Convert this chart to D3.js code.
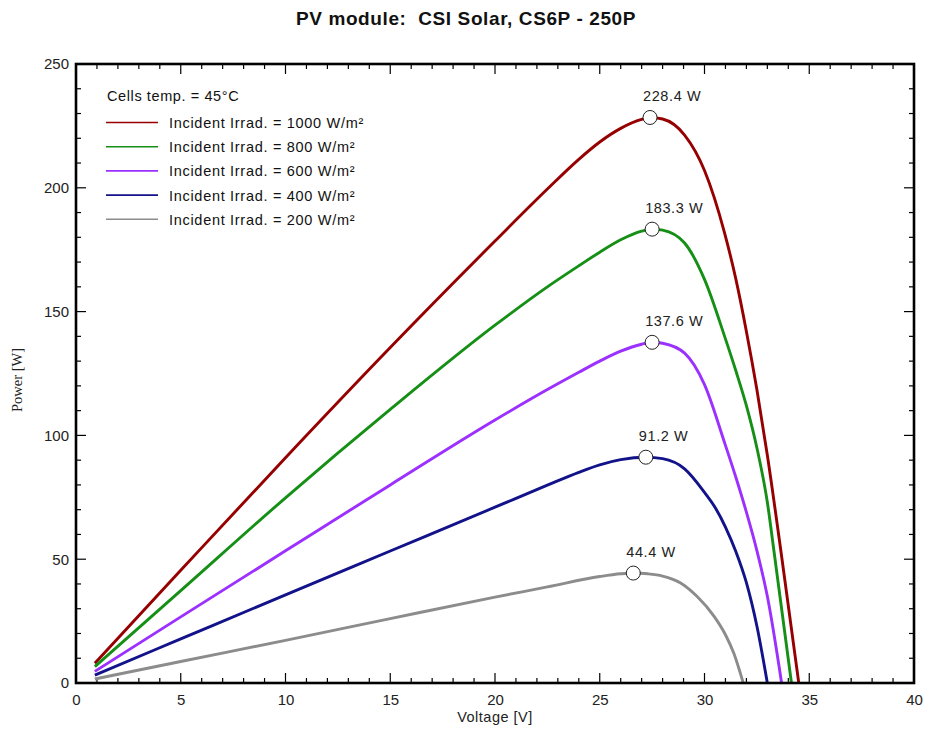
<!DOCTYPE html>
<html>
<head>
<meta charset="utf-8">
<script src="https://cdn.jsdelivr.net/npm/d3@7"></script>
<style>
  body { margin: 0; background: #fff; }
  svg { display: block; font-family: "Liberation Sans", Arial, sans-serif; }
</style>
</head>
<body>
<svg id="chart" width="927" height="731"></svg>
<script>
// ---- Data ----
const title = "PV module:  CSI Solar, CS6P - 250P";
const xTicks = [0, 5, 10, 15, 20, 25, 30, 35, 40];
const yTicks = [0, 50, 100, 150, 200, 250];
const seriesNames = ["Incident Irrad. = 1000 W/m²", "Incident Irrad. = 800 W/m²", "Incident Irrad. = 600 W/m²", "Incident Irrad. = 400 W/m²", "Incident Irrad. = 200 W/m²"];
const seriesColors = ["#960000", "#158f15", "#9b30ff", "#12128a", "#8c8c8c"];

const v1000 = [0.9, 5, 10, 15, 20, 22.5, 24, 25, 26, 27, 27.4, 28, 29.05, 30, 30.96, 31.5, 32, 32.5, 33, 33.7, 34.5];
const p1000 = [8.0, 45.5, 91, 135.5, 178.5, 199.5, 211.5, 218.5, 224, 227.6, 228.4, 227.8, 221.3, 207, 181.7, 163, 142, 118.5, 92, 50, 0];

const v800 = [0.9, 5, 10, 15, 20, 22.5, 24, 25, 26, 27, 27.5, 28, 29.05, 30, 30.96, 31.5, 32, 32.5, 33, 33.32, 34.15];
const p800 = [6.6, 37.3, 74.8, 110.5, 144.5, 160, 168.5, 174, 179, 182.5, 183.3, 182.9, 177.7, 163, 140, 126, 112, 95, 73, 53, 0];

const v600 = [0.9, 5, 10, 15, 20, 22.5, 24, 25, 26, 27, 27.5, 28, 29.05, 30, 30.96, 31.5, 32, 32.5, 33, 33.68];
const p600 = [4.7, 26.7, 53.4, 80, 106.2, 118.5, 125.5, 130, 134, 136.8, 137.6, 137.2, 133.2, 120.5, 97, 83, 69, 53.5, 35, 0];

const v400 = [0.9, 5, 10, 15, 20, 22.5, 24, 25, 26, 27.2, 28, 29.05, 30, 30.5, 31, 31.5, 32, 32.5, 33.0];
const p400 = [3.2, 17.8, 35.6, 53.3, 71, 79.9, 85.1, 88.1, 90.2, 91.2, 90.6, 86.5, 77, 71, 63, 53, 40.5, 23, 0];

const v200 = [0.9, 5, 10, 15, 20, 22.5, 25, 26, 26.6, 27.3, 28, 28.86, 29.65, 30.45, 31, 31.4, 31.85];
const p200 = [1.6, 8.7, 17.2, 26, 34.7, 38.8, 43.0, 44.1, 44.4, 44.1, 43.2, 40.4, 34.9, 27, 19.5, 12, 0];

const maxV = [27.4, 27.5, 27.5, 27.2, 26.6];
const maxP = [228.4, 183.3, 137.6, 91.2, 44.4];
const maxLabels = ["228.4 W", "183.3 W", "137.6 W", "91.2 W", "44.4 W"];

const legendHeader = "Cells temp. = 45°C";
const xLabel = "Voltage [V]";
const yLabel = "Power [W]";

const seriesV = [v1000, v800, v600, v400, v200];
const seriesP = [p1000, p800, p600, p400, p200];

// ---- Layout ----
const svg = d3.select("#chart");
const L = 76, R = 914, T = 64, B = 683;
const x = d3.scaleLinear().domain([0, 40]).range([L, R]);
const y = d3.scaleLinear().domain([0, 250]).range([B, T]);

// Title
svg.append("text").attr("x", 466).attr("y", 25).attr("text-anchor", "middle")
  .style("white-space", "pre").attr("letter-spacing", 0.6)
  .attr("font-weight", "bold").attr("font-size", 19).attr("fill", "#111").text(title);

// Ticks (inside, all four sides)
const minorX = d3.range(0, 41, 1), minorY = d3.range(0, 251, 10);
const tg = svg.append("g").attr("stroke", "#000").attr("stroke-width", 1.2);
minorX.forEach(v => {
  const len = (v % 5 === 0) ? 10 : 5;
  tg.append("line").attr("x1", x(v)).attr("x2", x(v)).attr("y1", B).attr("y2", B - len);
  tg.append("line").attr("x1", x(v)).attr("x2", x(v)).attr("y1", T).attr("y2", T + len);
});
minorY.forEach(v => {
  const len = (v % 50 === 0) ? 10 : 5;
  tg.append("line").attr("y1", y(v)).attr("y2", y(v)).attr("x1", L).attr("x2", L + len);
  tg.append("line").attr("y1", y(v)).attr("y2", y(v)).attr("x1", R).attr("x2", R - len);
});

// Axes via d3 (labels only; tick lines drawn above)
const xAxis = d3.axisBottom(x).tickValues(xTicks).tickSize(0).tickPadding(11);
const gx = svg.append("g").attr("transform", `translate(0,${B})`).call(xAxis);
gx.select(".domain").remove();
gx.selectAll("text").attr("font-size", 15).attr("font-family", "Liberation Sans, Arial, sans-serif").attr("fill", "#222");

const yAxis = d3.axisLeft(y).tickValues(yTicks).tickSize(0).tickPadding(7);
const gy = svg.append("g").attr("transform", `translate(${L},0)`).call(yAxis);
gy.select(".domain").remove();
gy.selectAll("text").attr("font-size", 15).attr("font-family", "Liberation Sans, Arial, sans-serif").attr("fill", "#222");

// Axis titles
svg.append("text").attr("x", (L + R) / 2).attr("y", 722).attr("text-anchor", "middle")
  .attr("letter-spacing", 0.5).attr("font-size", 14.5).attr("fill", "#222").text(xLabel);
svg.append("text").attr("transform", "translate(22,380) rotate(-90)").attr("text-anchor", "middle")
  .attr("font-family", "Liberation Serif, Times New Roman, serif").attr("font-size", 14.5).attr("fill", "#222").text(yLabel);

// Curves
const line = d3.line().x(d => x(d[0])).y(d => y(d[1])).curve(d3.curveMonotoneX);
seriesV.forEach((vs, i) => {
  const pts = vs.map((v, j) => [v, seriesP[i][j]]);
  svg.append("path").datum(pts).attr("d", line).attr("fill", "none")
    .attr("stroke", seriesColors[i]).attr("stroke-width", 2.9).attr("stroke-linejoin", "round");
});

// Frame
svg.append("rect").attr("x", L).attr("y", T).attr("width", R - L).attr("height", B - T)
  .attr("fill", "none").attr("stroke", "#000").attr("stroke-width", 2.6);

// Max markers and labels
maxV.forEach((v, i) => {
  svg.append("circle").attr("cx", x(v)).attr("cy", y(maxP[i])).attr("r", 7)
    .attr("fill", "#fff").attr("stroke", "#222").attr("stroke-width", 1);
  svg.append("text").attr("x", x(v) - 7).attr("y", y(maxP[i]) - 16)
    .attr("letter-spacing", 0.6).attr("font-size", 14.5).attr("fill", "#222").text(maxLabels[i]);
});

// Legend
svg.append("text").attr("x", 107).attr("y", 101).attr("letter-spacing", 0.6).attr("font-size", 14.5).attr("fill", "#111").text(legendHeader);
seriesNames.forEach((n, i) => {
  const yy = 122.5 + i * 24.2;
  svg.append("line").attr("x1", 106).attr("x2", 158).attr("y1", yy).attr("y2", yy)
    .attr("stroke", seriesColors[i]).attr("stroke-width", 1.6);
  svg.append("text").attr("x", 169).attr("y", yy + 5.5).attr("letter-spacing", 0.7).attr("font-size", 14.5).attr("fill", "#111").text(n);
});
</script>
</body>
</html>
